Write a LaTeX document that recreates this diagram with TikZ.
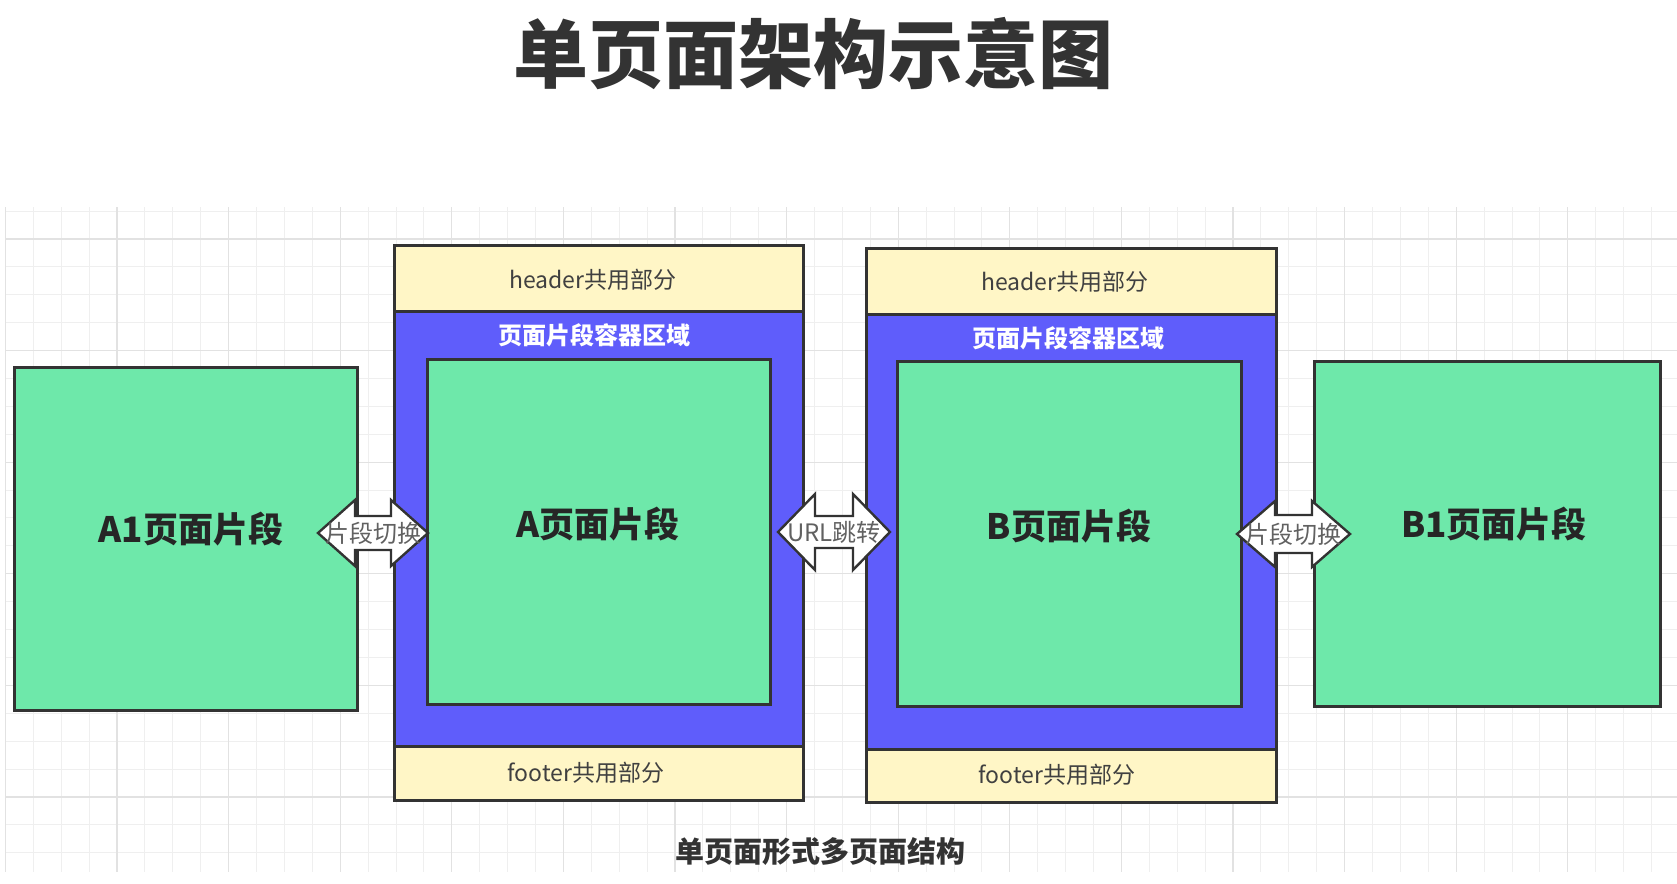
\documentclass[tikz,border=0pt]{standalone}
\usepackage{fontspec}
\setmainfont{Noto Sans CJK SC}
\usetikzlibrary{calc}

\definecolor{fragGreen}{HTML}{6EE8AA}
\definecolor{zoneBlue}{HTML}{5F5DFB}
\definecolor{sharedYellow}{HTML}{FFF6C6}
\definecolor{edgeDark}{HTML}{333333}
\definecolor{gridMinor}{HTML}{EFEFEF}
\definecolor{gridMajor}{HTML}{E2E2E2}

\tikzset{
  box/.style={draw=edgeDark, line width=2.6pt, anchor=north west, inner sep=0pt},
  fragbox/.style={box, fill=fragGreen},
  zonebox/.style={box, fill=zoneBlue},
  sharedbox/.style={box, fill=sharedYellow},
  fraglabel/.style={inner sep=0pt, text=black!85, font=\fontsize{35}{40}\selectfont\bfseries},
  sharedlabel/.style={inner sep=0pt, text=black!75, font=\fontsize{23}{26}\selectfont},
  zonelabel/.style={inner sep=0pt, text=white, font=\fontsize{24}{27}\selectfont\bfseries},
  arrowbody/.style={draw=edgeDark, line width=2.4pt, fill=white, line join=miter},
  arrowlabel/.style={inner sep=0pt, text=black!62, font=\fontsize{24}{26}\selectfont},
}

% double-headed block arrow between two tip coordinates:
% #1 left tip, #2 right tip, #3 head length, #4 half head width, #5 half shaft width
\newcommand\blockarrow[5]{%
  \draw[arrowbody] (#1) -- ($(#1)+(#3,-#4)$) -- ($(#1)+(#3,-#5)$)
    -- ($(#2)+(-#3,-#5)$) -- ($(#2)+(-#3,-#4)$) -- (#2)
    -- ($(#2)+(-#3,#4)$) -- ($(#2)+(-#3,#5)$)
    -- ($(#1)+(#3,#5)$) -- ($(#1)+(#3,#4)$) -- cycle;}

\begin{document}
\begin{tikzpicture}[x=1pt,y=-1pt]
\useasboundingbox (0,0) rectangle (1677,883);
\fill[white] (0,0) rectangle (1677,883);

% background grid
\begin{scope}
  \clip (5,207) rectangle (1677,872);
  \foreach \i in {0,...,60} \draw[gridMinor, line width=1pt] ({5.4+\i*27.9},207) -- ++(0,665);
  \foreach \i in {0,...,24} \draw[gridMinor, line width=1pt] (5,{211+\i*27.9}) -- ++(1672,0);
  \foreach \i in {0,...,15} \draw[gridMajor, line width=1.2pt] ({5.4+\i*111.6},207) -- ++(0,665);
  \foreach \i in {0,...,6} \draw[gridMajor, line width=1.2pt] (5,{239+\i*111.6}) -- ++(1672,0);
\end{scope}

% title
\node[inner sep=0pt, text=edgeDark, font=\fontsize{75}{80}\selectfont\bfseries] (title) at (813,54) {单页面架构示意图};

% outer fragments
\node[fragbox, minimum width=343pt, minimum height=343pt] (A1) at (13,366) {};
\node[fragbox, minimum width=346pt, minimum height=345pt] (B1) at (1313,360) {};

% page A: header, fragment container, footer
\node[zonebox, minimum width=409pt, minimum height=555pt] (Azone) at (393,244) {};
\node[sharedbox, minimum width=409pt, minimum height=66pt] (Ahead) at (393,244) {};
\node[sharedbox, minimum width=409pt, minimum height=54pt] (Afoot) at (393,745) {};
\node[fragbox, minimum width=343pt, minimum height=345pt] (A) at (426,358) {};

% page B: header, fragment container, footer
\node[zonebox, minimum width=410pt, minimum height=554pt] (Bzone) at (865,247) {};
\node[sharedbox, minimum width=410pt, minimum height=66pt] (Bhead) at (865,247) {};
\node[sharedbox, minimum width=410pt, minimum height=53pt] (Bfoot) at (865,748) {};
\node[fragbox, minimum width=344pt, minimum height=345pt] (B) at (896,360) {};

% labels
\node[fraglabel] (A1txt) at (191,529) {A1页面片段};
\node[fraglabel] (Atxt) at (598,524) {A页面片段};
\node[fraglabel] (Btxt) at (1069,526) {B页面片段};
\node[fraglabel] (B1txt) at (1494,524) {B1页面片段};

\node[sharedlabel] (Aheadtxt) at (593,280) {header共用部分};
\node[sharedlabel] (Bheadtxt) at (1065,282) {header共用部分};
\node[sharedlabel] (Afoottxt) at (586,773) {footer共用部分};
\node[sharedlabel] (Bfoottxt) at (1057,775) {footer共用部分};

\node[zonelabel] (Azonetxt) at (594,335) {页面片段容器区域};
\node[zonelabel] (Bzonetxt) at (1068,338) {页面片段容器区域};

% switching arrows
\coordinate (s1l) at (318,533);
\coordinate (s1r) at (428,533);
\coordinate (s2l) at (778,532);
\coordinate (s2r) at (890,532);
\coordinate (s3l) at (1237,534);
\coordinate (s3r) at (1350,534);
\blockarrow{s1l}{s1r}{37}{33}{17}
\blockarrow{s2l}{s2r}{37}{38}{16}
\blockarrow{s3l}{s3r}{38}{33}{19}
\node[arrowlabel] (s1txt) at ($(s1l)!0.5!(s1r)$) {片段切换};
\node[arrowlabel] (s2txt) at ($(s2l)!0.5!(s2r)$) {URL跳转};
\node[arrowlabel] (s3txt) at ($(s3l)!0.5!(s3r)$) {片段切换};

% caption
\node[inner sep=0pt, text=edgeDark, font=\fontsize{29}{32}\selectfont\bfseries] (caption) at (820,852) {单页面形式多页面结构};
\end{tikzpicture}
\end{document}
